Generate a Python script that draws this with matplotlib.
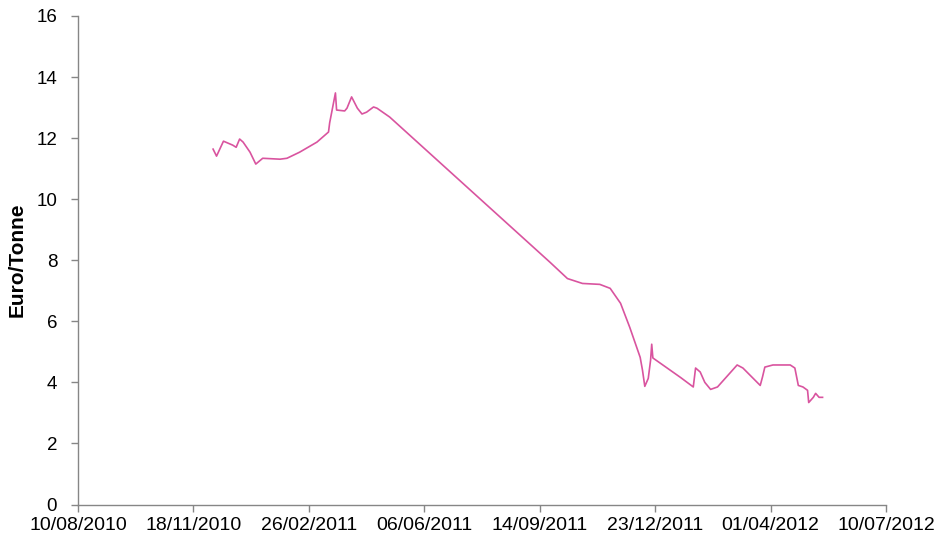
import matplotlib
matplotlib.use('Agg')
import matplotlib.pyplot as plt
import matplotlib.dates as mdates
import pandas as pd

plt.rcParams['font.family'] = ['Liberation Sans', 'DejaVu Sans']

dates = [
    '2010-12-05', '2010-12-08', '2010-12-14', '2010-12-22', '2010-12-25',
    '2010-12-28', '2010-12-31', '2011-01-06', '2011-01-11', '2011-01-17',
    '2011-02-01', '2011-02-07', '2011-02-18', '2011-03-05', '2011-03-15',
    '2011-03-16', '2011-03-21', '2011-03-22', '2011-03-29', '2011-03-31',
    '2011-04-04', '2011-04-09', '2011-04-13', '2011-04-17', '2011-04-23',
    '2011-04-26', '2011-05-07', '2011-09-23', '2011-10-08', '2011-10-21',
    '2011-11-05', '2011-11-14', '2011-11-23', '2011-12-01', '2011-12-10',
    '2011-12-12', '2011-12-14', '2011-12-17', '2011-12-19', '2011-12-20',
    '2011-12-21', '2012-01-14', '2012-01-25', '2012-01-27', '2012-01-31',
    '2012-02-04', '2012-02-09', '2012-02-15', '2012-02-28', '2012-03-03',
    '2012-03-08', '2012-03-23', '2012-03-25', '2012-03-27', '2012-04-03',
    '2012-04-18', '2012-04-22', '2012-04-25', '2012-04-29', '2012-05-03',
    '2012-05-04', '2012-05-08', '2012-05-10', '2012-05-13', '2012-05-16',
]
prices = [
    11.64, 11.41, 11.90, 11.77, 11.70,
    11.97, 11.87, 11.54, 11.15, 11.34,
    11.31, 11.34, 11.54, 11.87, 12.20,
    12.50, 13.48, 12.92, 12.89, 12.98,
    13.35, 12.98, 12.79, 12.85, 13.02,
    12.98, 12.69, 7.93, 7.40, 7.24,
    7.21, 7.08, 6.59, 5.80, 4.82,
    4.40, 3.87, 4.13, 4.72, 5.25,
    4.80, 4.16, 3.85, 4.47, 4.34,
    4.00, 3.77, 3.85, 4.40, 4.57,
    4.47, 3.90, 4.18, 4.50, 4.57,
    4.57, 4.47, 3.90, 3.85, 3.74,
    3.34, 3.51, 3.64, 3.51, 3.51,
]

tick_dates = pd.date_range('2010-08-10', periods=8, freq='100D')
y_ticks = list(range(0, 17, 2))

df = pd.DataFrame({'date': pd.to_datetime(dates), 'price': prices})

fig = plt.figure(figsize=(9.4, 5.44), dpi=100)
ax = fig.add_axes([0.083, 0.0726, 0.8596, 0.898])

ax.plot(df['date'], df['price'], color='#d9549f', linewidth=1.2,
        solid_joinstyle='round')

ax.set_xlim(tick_dates[0], tick_dates[-1])
ax.set_ylim(0, 16)
ax.set_xticks(tick_dates)
ax.xaxis.set_major_formatter(mdates.DateFormatter('%d/%m/%Y'))
ax.set_yticks(y_ticks)

for side in ['top', 'right']:
    ax.spines[side].set_visible(False)
for side in ['left', 'bottom']:
    ax.spines[side].set_color('#868686')
    ax.spines[side].set_linewidth(1.0)

ax.tick_params(axis='both', colors='#868686', labelcolor='#000000',
               labelsize=14, length=5, width=1.0, direction='out')
ax.tick_params(axis='x', pad=4)
ax.tick_params(axis='y', labelsize=13.5, pad=10)

ax.set_ylabel('Euro/Tonne', fontsize=15, fontweight='bold')
ax.yaxis.set_label_coords(-0.063, 0.5)

fig.savefig('out.png', dpi=100)
